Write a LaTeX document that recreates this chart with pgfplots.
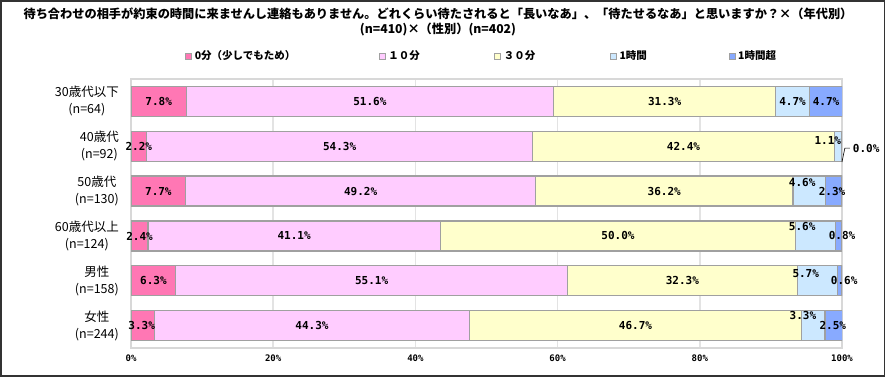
\documentclass[border=0pt]{standalone}
\usepackage{pgfplots}
\usepackage{pgfplotstable}
\pgfplotsset{compat=1.18}
\usepackage{fontspec}
\setmainfont{Noto Sans CJK JP}
\newfontfamily\mono{DejaVu Sans Mono}
\definecolor{c1}{HTML}{FF77B4}
\definecolor{c2}{HTML}{FFCCFF}
\definecolor{c3}{HTML}{FFFFCC}
\definecolor{c4}{HTML}{CCE8FF}
\definecolor{c5}{HTML}{88AAFF}
\definecolor{bord}{HTML}{A0A0A0}
\definecolor{gridc}{HTML}{E3E3E3}
\definecolor{axc}{HTML}{D8D8D8}
\definecolor{frame}{HTML}{333333}

\pgfplotstableread{
y a b c d e
0 7.8 51.6 31.3 4.7 4.7
1 2.2 54.3 42.4 1.1 0.0
2 7.7 49.2 36.2 4.6 2.3
3 2.4 41.1 50.0 5.6 0.8
4 6.3 55.1 32.3 5.7 0.6
5 3.3 44.3 46.7 3.3 2.5
}\data

\pgfplotstableread{
x y v
3.9 0 7.8
33.6 0 51.6
75.05 0 31.3
93.05 0 4.7
97.75 0 4.7
1.1 1 2.2
29.35 1 54.3
77.7 1 42.4
98.0 0.87 1.1
103.4 1.04 0.0
3.85 2 7.7
32.3 2 49.2
75.0 2 36.2
94.4 1.8 4.6
98.6 2 2.3
1.2 3 2.4
22.95 3 41.1
68.5 3 50.0
94.4 2.8 5.6
100.0 3 0.8
3.15 4 6.3
33.85 4 55.1
77.55 4 32.3
94.9 3.85 5.7
100.3 4 0.6
1.5 5 3.3
25.45 5 44.3
70.95 5 46.7
94.5 4.78 3.3
98.7 5 2.5
}\labels

\begin{document}
\begin{tikzpicture}
\useasboundingbox (0pt,0pt) rectangle (886pt,-378pt);
\draw[frame, line width=1.5pt] (0.75pt,-0.75pt) rectangle (884.5pt,-375.8pt);

\node[font=\bfseries\fontsize{12.2}{14}\selectfont, inner sep=0pt] at (438pt,-14pt)
  {待ち合わせの相手が約束の時間に来ませんし連絡もありません。どれくらい待たされると「長いなあ」、「待たせるなあ」と思いますか？×（年代別）};
\node[font=\bfseries\fontsize{12.2}{14}\selectfont, inner sep=0pt] at (438pt,-29pt)
  {(n=410)×（性別）(n=402)};

\begin{axis}[
  at={(131pt,-348pt)}, anchor=south west,
  scale only axis, width=711pt, height=269pt,
  xbar stacked, bar width=30pt,
  xmin=0, xmax=100, ymin=-0.5, ymax=5.5,
  enlargelimits=false,
  y dir=reverse,
  xtick={0,20,40,60,80,100},
  xticklabels={0\%,20\%,40\%,60\%,80\%,100\%},
  xticklabel style={font=\mono\bfseries\fontsize{9}{10}\selectfont, yshift=-3pt},
  ytick={0,1,2,3,4,5},
  yticklabels={{30歳代以下\\(n=64)},{40歳代\\(n=92)},{50歳代\\(n=130)},{60歳代以上\\(n=124)},{男性\\(n=158)},{女性\\(n=244)}},
  yticklabel style={font=\fontsize{12.5}{17}\selectfont, align=center, inner sep=0pt, xshift=-12pt},
  major tick length=0pt,
  xmajorgrids, major grid style={gridc, line width=1.5pt},
  axis line style={axc, line width=1.5pt},
  every axis plot post/.append style={draw=bord, line width=1.2pt,
    legend image code/.code={\draw[##1, line width=0.6pt] (0pt,-3pt) rectangle (6pt,3pt);}},
  legend columns=5,
  legend style={at={(0.0759,1.0855)}, anchor=west, draw=none, fill=none, inner sep=0pt,
    font=\bfseries\fontsize{10.5}{12}\selectfont,
    nodes={inner sep=0pt},
    /tikz/every odd column/.append style={column sep=3pt}},
  legend cell align=left,
]
\addplot[fill=c1] table[x=a, y=y]{\data};
\addlegendentry{\makebox[184pt][l]{0分（少しでもため）}}
\addplot[fill=c2] table[x=b, y=y]{\data};
\addlegendentry{\makebox[106pt][l]{１０分}}
\addplot[fill=c3] table[x=c, y=y]{\data};
\addlegendentry{\makebox[106pt][l]{３０分}}
\addplot[fill=c4] table[x=d, y=y]{\data};
\addlegendentry{\makebox[109pt][l]{1時間}}
\addplot[fill=c5] table[x=e, y=y]{\data};
\addlegendentry{\makebox[50pt][l]{1時間超}}
\end{axis}

\begin{axis}[
  at={(131pt,-348pt)}, anchor=south west,
  scale only axis, width=711pt, height=269pt,
  xmin=0, xmax=100, ymin=-0.5, ymax=5.5,
  y dir=reverse, hide axis, clip=false,
]
\addplot[only marks, mark=none, point meta=explicit,
  nodes near coords={\pgfmathprintnumber[fixed,fixed zerofill,precision=1,assume math mode=true]{\pgfplotspointmeta}\%},
  every node near coord/.append style={anchor=center, inner sep=0pt, font=\mono\bfseries\fontsize{11}{12}\selectfont}]
  table[x=x, y=y, meta=v]{\labels};
\draw[black, line width=0.6pt] (axis cs:100,1.35) -- (axis cs:100.4,1.04) -- (axis cs:101.1,1.04);
\end{axis}
\end{tikzpicture}
\end{document}
